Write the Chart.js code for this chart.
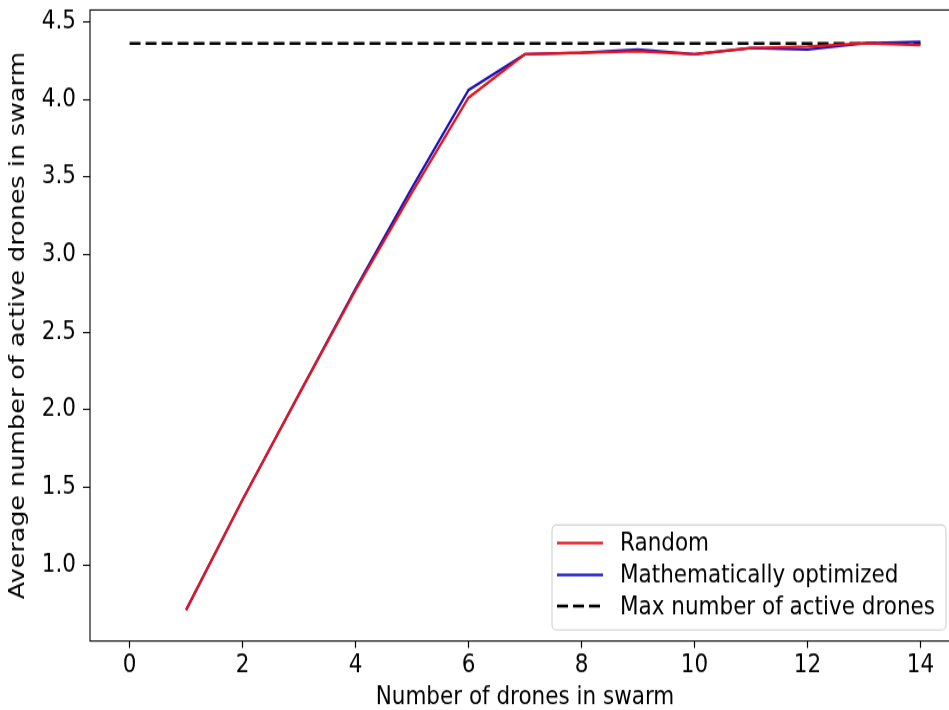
<!DOCTYPE html>
<html>
<head>
<meta charset="utf-8">
<script src="https://cdn.jsdelivr.net/npm/chart.js@4/dist/chart.umd.min.js"></script>
<style>
  html, body { margin: 0; padding: 0; background: #ffffff; overflow: hidden; }
  #wrap { width: 949px; height: 710px; overflow: hidden; position: relative; }
  #stretch { width: 960px; height: 601px; transform: scale(1, 1.18136); transform-origin: 0 0; }
  canvas { display: block; }
</style>
</head>
<body>
<div id="wrap"><div id="stretch"><canvas id="c" width="960" height="601"></canvas></div></div>
<script>
// ---- data ----
const swarmSizes = [1, 2, 3, 4, 5, 6, 7, 8, 9, 10, 11, 12, 13, 14];
const randomAvg = [0.71, 1.42, 2.10, 2.77, 3.40, 4.01, 4.29, 4.30, 4.31, 4.29, 4.33, 4.34, 4.36, 4.35];
const optimizedAvg = [0.71, 1.42, 2.10, 2.78, 3.43, 4.06, 4.29, 4.30, 4.32, 4.29, 4.33, 4.32, 4.36, 4.37];
const maxActiveX = [0, 14];
const maxActive = [4.36, 4.36];
const xTickValues = [0, 2, 4, 6, 8, 10, 12, 14];
const yTickValues = [1.0, 1.5, 2.0, 2.5, 3.0, 3.5, 4.0, 4.5];
const seriesLabels = ['Random', 'Mathematically optimized', 'Max number of active drones'];
const xTitle = 'Number of drones in swarm';
const yTitle = 'Average number of active drones in swarm';

const FONT = 'DejaVu Sans';
const FS = 21.5;

const toPts = (xs, ys) => xs.map((x, i) => ({ x: x, y: ys[i] }));

const framePlugin = {
  id: 'frame',
  beforeDatasetsDraw(chart) {
    const { ctx, chartArea: a } = chart;
    ctx.save();
    ctx.strokeStyle = '#000';
    ctx.lineWidth = 1.1;
    ctx.strokeRect(a.left, a.top, a.right - a.left, a.bottom - a.top);
    ctx.restore();
  }
};

const legendPlugin = {
  id: 'mplLegend',
  afterDraw(chart) {
    const ctx = chart.ctx;
    const x0 = 552, y0 = 444.4, w = 394, h = 88.9, r = 4.5;
    ctx.save();
    ctx.fillStyle = 'rgba(255,255,255,0.85)';
    ctx.strokeStyle = '#d0d0d0';
    ctx.lineWidth = 1.1;
    ctx.beginPath();
    ctx.moveTo(x0 + r, y0);
    ctx.arcTo(x0 + w, y0, x0 + w, y0 + h, r);
    ctx.arcTo(x0 + w, y0 + h, x0, y0 + h, r);
    ctx.arcTo(x0, y0 + h, x0, y0, r);
    ctx.arcTo(x0, y0, x0 + w, y0, r);
    ctx.closePath();
    ctx.fill();
    ctx.stroke();
    const rows = [459.6, 486.7, 513.0];
    chart.data.datasets.forEach((ds, i) => {
      const y = rows[i];
      ctx.beginPath();
      ctx.strokeStyle = ds.borderColor;
      ctx.lineWidth = ds.borderWidth;
      ctx.setLineDash(ds.borderDash || []);
      ctx.moveTo(557, y);
      ctx.lineTo(603, y);
      ctx.stroke();
      ctx.setLineDash([]);
      ctx.fillStyle = '#000';
      ctx.font = FS + 'px "' + FONT + '"';
      ctx.textBaseline = 'middle';
      ctx.textAlign = 'left';
      ctx.fillText(ds.label, 620, y + 1);
    });
    ctx.restore();
  }
};

new Chart(document.getElementById('c'), {
  type: 'line',
  data: {
    datasets: [
      { label: seriesLabels[0], data: toPts(swarmSizes, randomAvg), borderColor: '#e3141c', borderWidth: 2.3, pointRadius: 0, tension: 0, fill: false },
      { label: seriesLabels[1], data: toPts(swarmSizes, optimizedAvg), borderColor: '#1c12bc', borderWidth: 2.3, pointRadius: 0, tension: 0, fill: false },
      { label: seriesLabels[2], data: toPts(maxActiveX, maxActive), borderColor: '#000000', borderWidth: 2.4, borderDash: [11, 5], pointRadius: 0, tension: 0, fill: false }
    ]
  },
  options: {
    responsive: false,
    animation: false,
    devicePixelRatio: 1,
    layout: { padding: { top: 8.46, right: 0, left: 0, bottom: 0 } },
    plugins: { legend: { display: false }, tooltip: { enabled: false } },
    scales: {
      x: {
        type: 'linear',
        min: -0.7,
        max: 14.7,
        afterBuildTicks: s => { s.ticks = xTickValues.map(v => ({ value: v })); },
        afterFit: s => { s.height = 58.4; s.paddingLeft = 0; s.paddingRight = 0; },
        grid: { drawOnChartArea: false, drawTicks: true, tickLength: 5.9, tickColor: '#000', tickWidth: 1.2 },
        border: { display: false },
        ticks: { color: '#000', font: { family: FONT, size: FS }, padding: 2, maxRotation: 0, callback: v => String(v) },
        title: { display: true, text: xTitle, color: '#000', font: { family: FONT, size: FS }, padding: { top: 0, bottom: -2.5 } }
      },
      y: {
        type: 'linear',
        min: 0.51,
        max: 4.575,
        afterBuildTicks: s => { s.ticks = yTickValues.map(v => ({ value: v })); },
        afterFit: s => { s.width = 90; s.paddingTop = 0; s.paddingBottom = 0; },
        grid: { drawOnChartArea: false, drawTicks: true, tickLength: 7, tickColor: '#000', tickWidth: 1.1 },
        border: { display: false },
        ticks: { color: '#000', font: { family: FONT, size: FS }, padding: 7, callback: v => Number(v).toFixed(1) },
        title: { display: true, text: yTitle, color: '#000', font: { family: FONT, size: FS }, padding: { top: 6, bottom: 0 } }
      }
    }
  },
  plugins: [framePlugin, legendPlugin]
});
</script>
</body>
</html>
